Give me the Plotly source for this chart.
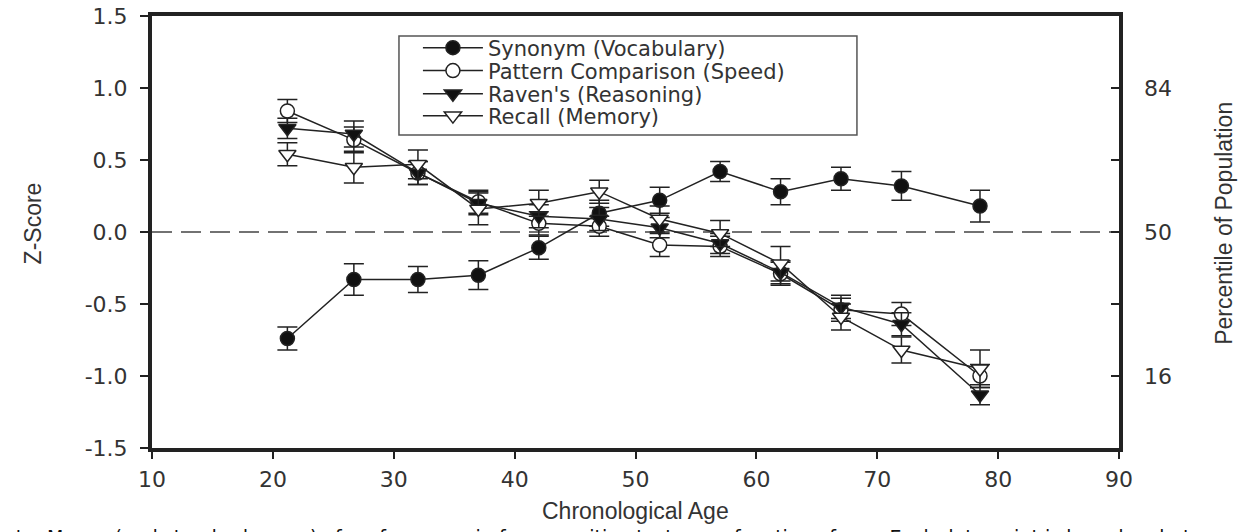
import plotly.graph_objects as go

# edades medias de cada grupo
ages = [21.2, 26.7, 32, 37, 42, 47, 52, 57, 62, 67, 72, 78.5]

synonym = [-0.74, -0.33, -0.33, -0.30, -0.11, 0.13, 0.22, 0.42, 0.28, 0.37, 0.32, 0.18]
synonym_se = [0.08, 0.11, 0.09, 0.10, 0.08, 0.09, 0.09, 0.07, 0.09, 0.08, 0.10, 0.11]

pattern = [0.84, 0.64, 0.41, 0.21, 0.06, 0.04, -0.09, -0.10, -0.29, -0.54, -0.57, -1.00]
pattern_se = [0.08, 0.09, 0.08, 0.08, 0.08, 0.07, 0.08, 0.07, 0.08, 0.08, 0.08, 0.08]

ravens = [0.72, 0.68, 0.41, 0.20, 0.11, 0.09, 0.03, -0.08, -0.28, -0.52, -0.64, -1.13]
ravens_se = [0.07, 0.09, 0.08, 0.08, 0.08, 0.08, 0.07, 0.07, 0.08, 0.08, 0.08, 0.07]

recall = [0.54, 0.45, 0.47, 0.16, 0.20, 0.28, 0.09, -0.01, -0.22, -0.59, -0.82, -0.95]
recall_se = [0.08, 0.11, 0.10, 0.11, 0.09, 0.08, 0.09, 0.09, 0.12, 0.09, 0.09, 0.13]

series_names = ['Synonym (Vocabulary)', 'Pattern Comparison (Speed)',
                "Raven's (Reasoning)", 'Recall (Memory)']

z_ticks = [-1.5, -1.0, -0.5, 0.0, 0.5, 1.0, 1.5]
z_ticktext = ['-1.5', '-1.0', '-0.5', '0.0', '0.5', '1.0', '1.5']
pct_ticktext = ['', '16', '', '50', '', '84', '']
age_ticks = [10, 20, 30, 40, 50, 60, 70, 80, 90]

INK = '#222222'
TICK_FONT = dict(family='DejaVu Sans', size=22, color='#333333')
TITLE_FONT = dict(family='Liberation Sans, Arial', size=23, color='#333333')
LEGEND_FONT = dict(family='DejaVu Sans', size=21, color='#333333')

# una leyenda por serie para poder juntar las filas como en el original
legend_ids = ['legend', 'legend2', 'legend3', 'legend4']
legend_tops = [0.9734, 0.9202, 0.8669, 0.8160]


def add_series(fig, y, se, name, symbol, fill, legend_id):
    fig.add_trace(go.Scatter(
        x=ages, y=y, name=name, mode='lines+markers', legend=legend_id,
        line=dict(color=INK, width=1.5),
        marker=dict(symbol=symbol, size=15 if 'triangle' in symbol else 14,
                    color=fill, line=dict(color=INK, width=1.5)),
        error_y=dict(type='data', array=se, visible=True,
                     color=INK, thickness=1.5, width=10),
    ))


fig = go.Figure()
add_series(fig, synonym, synonym_se, series_names[0], 'circle', '#111111', legend_ids[0])
add_series(fig, pattern, pattern_se, series_names[1], 'circle', 'white', legend_ids[1])
add_series(fig, ravens, ravens_se, series_names[2], 'triangle-down', '#111111', legend_ids[2])
add_series(fig, recall, recall_se, series_names[3], 'triangle-down', 'white', legend_ids[3])

# eje derecho (percentiles) solo para las marcas
fig.add_trace(go.Scatter(x=[None], y=[None], yaxis='y2', showlegend=False, hoverinfo='skip'))

fig.add_shape(type='line', xref='paper', x0=0, x1=1, yref='y', y0=0, y1=0,
              line=dict(color='#444444', width=1.5, dash='20px,9px'), layer='below')
# marco de la leyenda
fig.add_shape(type='rect', xref='paper', yref='paper', x0=0.2554, x1=0.729, y0=0.7245, y1=0.9537,
              line=dict(color='#555555', width=1.5), fillcolor='white', layer='below')

legends = {}
for lid, top in zip(legend_ids, legend_tops):
    legends[lid] = dict(x=0.275, y=top, xanchor='left', yanchor='top',
                        borderwidth=0, bgcolor='rgba(0,0,0,0)',
                        font=LEGEND_FONT, itemwidth=60)

fig.update_layout(
    width=1256, height=532,
    margin=dict(l=144, r=145, t=8, b=92),
    paper_bgcolor='white', plot_bgcolor='white',
    showlegend=True,
    **legends,
    xaxis=dict(range=[10, 90], tickvals=age_ticks, showgrid=False, zeroline=False,
               showline=True, linecolor=INK, linewidth=4, mirror=True, automargin=False,
               ticks='outside', ticklen=7, tickwidth=1.5, tickcolor=INK,
               tickfont=TICK_FONT, ticklabelstandoff=2, ticklabeloverflow='allow'),
    yaxis=dict(range=[-1.5, 1.5], tickvals=z_ticks, ticktext=z_ticktext,
               showgrid=False, zeroline=False, automargin=False,
               showline=True, linecolor=INK, linewidth=4, mirror=True,
               ticks='outside', ticklen=8, tickwidth=1.5, tickcolor=INK,
               tickfont=TICK_FONT, ticklabelstandoff=8, ticklabeloverflow='allow'),
    yaxis2=dict(range=[-1.5, 1.5], overlaying='y', side='right', automargin=False,
                tickvals=z_ticks, ticktext=pct_ticktext,
                showgrid=False, zeroline=False, showline=False,
                ticks='inside', ticklen=8, tickwidth=1.5, tickcolor=INK,
                tickfont=TICK_FONT, ticklabelstandoff=24),
)

fig.add_annotation(text='Z-Score', xref='paper', yref='paper', x=-0.123, y=0.52,
                   textangle=-90, showarrow=False, font=TITLE_FONT,
                   xanchor='center', yanchor='middle')
fig.add_annotation(text='Percentile of Population', xref='paper', yref='paper',
                   x=1.109, y=0.52, textangle=-90, showarrow=False, font=TITLE_FONT,
                   xanchor='center', yanchor='middle')
fig.add_annotation(text='Chronological Age', xref='paper', yref='paper', x=0.5, y=-0.112,
                   showarrow=False, font=TITLE_FONT, xanchor='center', yanchor='top')
# pie de figura, cortado en el borde inferior
fig.add_annotation(text='data. Means (and standard errors) of performance in four cognitive tests '
                        'as a function of age. Each data point is based on between',
                   xref='paper', yref='paper', x=-0.168, y=-0.175, showarrow=False,
                   font=dict(family='DejaVu Sans', size=19, color='#111111'),
                   xanchor='left', yanchor='top')

fig.write_html("out.html")
